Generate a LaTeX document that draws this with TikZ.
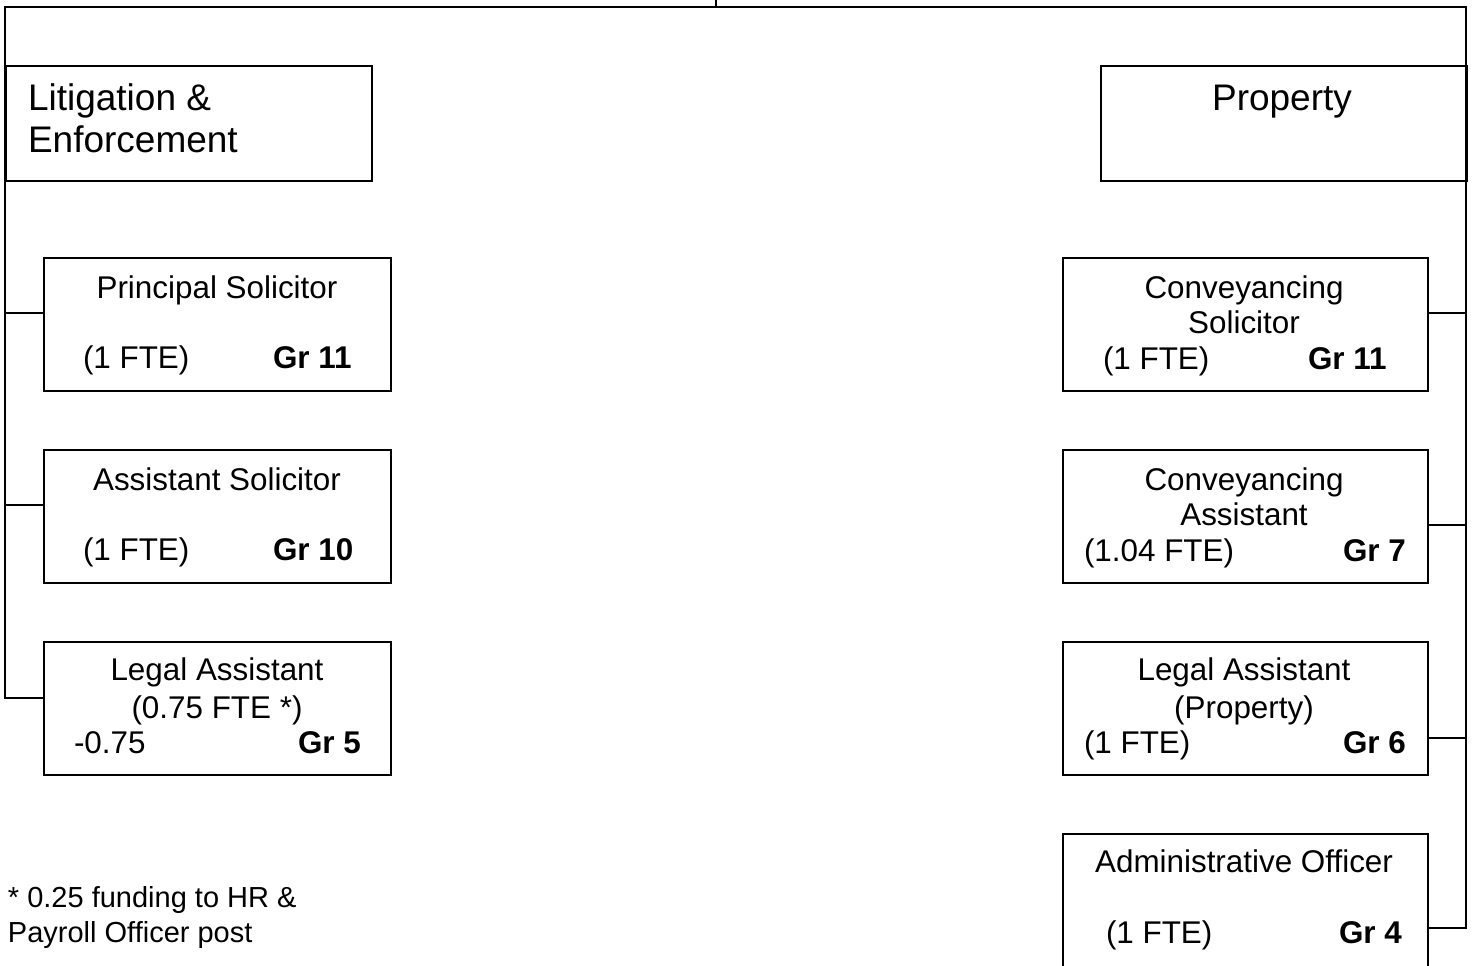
\documentclass[tikz,border=0pt]{standalone}
\usepackage{fontspec}
\setmainfont{Liberation Sans}
\begin{document}
\begin{tikzpicture}[x=0.5pt,y=-0.5pt,line width=1pt,
	post/.style={draw,line width=1pt,anchor=north west,inner sep=0pt,minimum width=173.5pt,minimum height=66.5pt},
	wpost/.style={post,minimum width=182.5pt},
	head/.style={post,minimum width=183pt,minimum height=57.5pt},
	ttl/.style={anchor=base,inner sep=0pt,font=\fontsize{15.7}{18}\selectfont},
	fte/.style={ttl,anchor=base west},
	grd/.style={fte,font=\fontsize{15.7}{18}\selectfont\bfseries},
	big/.style={anchor=base west,inner sep=0pt,font=\fontsize{18.5}{21}\selectfont},
	note/.style={anchor=base west,inner sep=0pt,font=\fontsize{14.5}{17}\selectfont}]
	\useasboundingbox (0,0) rectangle (1472,965);
	% section heads
	\node[head] (lit) at (5,65) {};
	\node[big] (litA) at (27,110) {Litigation \&};
	\node[big] (litB) at (27,152) {Enforcement};
	\node[head] (prop) at (1100,65) {};
	\node[big,anchor=base] (propT) at (1282,110) {Property};
	% litigation posts
	\node[post] (lps) at (43,257) {};
	\node[ttl] (lpsT) at (217,298) {Principal Solicitor};
	\node[fte] (lpsF) at (82,368) {(1 FTE)};
	\node[grd] (lpsG) at (272,368) {Gr 11};
	\node[post] (las) at (43,449) {};
	\node[ttl] (lasT) at (217,490) {Assistant Solicitor};
	\node[fte] (lasF) at (82,560) {(1 FTE)};
	\node[grd] (lasG) at (272,560) {Gr 10};
	\node[post] (lla) at (43,641) {};
	\node[ttl] (llaT) at (217,680) {Legal Assistant};
	\node[ttl] (llaS) at (217,718) {(0.75 FTE *)};
	\node[fte] (llaF) at (73,753) {-0.75};
	\node[grd] (llaG) at (297,753) {Gr 5};
	% property posts
	\node[wpost] (rcs) at (1062,257) {};
	\node[ttl] (rcsT) at (1244,298) {Conveyancing};
	\node[ttl] (rcsS) at (1244,333) {Solicitor};
	\node[fte] (rcsF) at (1102,369) {(1 FTE)};
	\node[grd] (rcsG) at (1307,369) {Gr 11};
	\node[wpost] (rca) at (1062,449) {};
	\node[ttl] (rcaT) at (1244,490) {Conveyancing};
	\node[ttl] (rcaS) at (1244,525) {Assistant};
	\node[fte] (rcaF) at (1083,561) {(1.04 FTE)};
	\node[grd] (rcaG) at (1342,561) {Gr 7};
	\node[wpost] (rla) at (1062,641) {};
	\node[ttl] (rlaT) at (1244,680) {Legal Assistant};
	\node[ttl] (rlaS) at (1244,718) {(Property)};
	\node[fte] (rlaF) at (1083,753) {(1 FTE)};
	\node[grd] (rlaG) at (1342,753) {Gr 6};
	\node[wpost,minimum height=72pt] (rao) at (1062,833) {};
	\node[ttl] (raoT) at (1244,872) {Administrative Officer};
	\node[fte] (raoF) at (1105,943) {(1 FTE)};
	\node[grd] (raoG) at (1338,943) {Gr 4};
	% footnote
	\node[note] (noteA) at (7,907) {* 0.25 funding to HR \&};
	\node[note] (noteB) at (7,942) {Payroll Officer post};
	% connectors
	\coordinate (stub) at (716,0);
	\coordinate (hub) at (716,7);
	\coordinate (lj1) at (5,313);
	\coordinate (lj2) at (5,505);
	\coordinate (lj3) at (5,698);
	\coordinate (rj1) at (1466,313);
	\coordinate (rj2) at (1466,525);
	\coordinate (rj3) at (1466,738);
	\coordinate (rj4) at (1466,928);
	\draw (stub) -- (hub);
	\draw (hub) -| (lj3) -- (lla.west |- lj3);
	\draw (hub) -| (rj4) -- (rao.east |- rj4);
	\draw (lj1) -- (lps.west |- lj1);
	\draw (lj2) -- (las.west |- lj2);
	\draw (rj1) -- (rcs.east |- rj1);
	\draw (rj2) -- (rca.east |- rj2);
	\draw (rj3) -- (rla.east |- rj3);
\end{tikzpicture}
\end{document}
